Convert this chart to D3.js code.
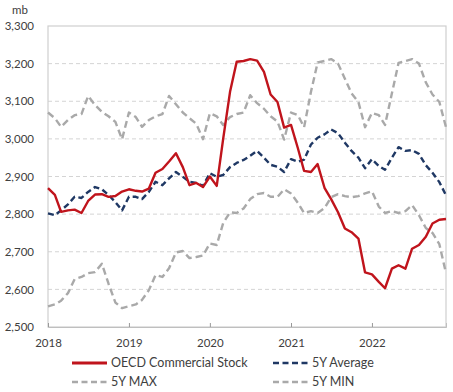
<!DOCTYPE html>
<html><head><meta charset="utf-8">
<script src="https://cdn.jsdelivr.net/npm/d3@7"></script>
<style>
html,body{margin:0;padding:0;background:#fff;}
svg text{font-family:Lato,"Open Sans",sans-serif;fill:#404040;}
</style></head>
<body><svg id="c" width="453" height="392"></svg>
<script>
const yearLabels = ["2018","2019","2020","2021","2022"];
const yTicks = [2500,2600,2700,2800,2900,3000,3100,3200,3300];
const seriesNames = ["OECD Commercial Stock","5Y Average","5Y MAX","5Y MIN"];

const oecd = [2869,2851,2806,2810,2812,2803,2835,2852,2853,2846,2848,2860,
  2866,2862,2860,2868,2910,2920,2940,2962,2925,2877,2883,2872,
  2900,2875,3000,3125,3205,3207,3212,3208,3178,3118,3098,3030,
  3037,2975,2915,2912,2933,2870,2840,2805,2762,2752,2735,2645,
  2640,2620,2603,2655,2664,2655,2708,2718,2740,2775,2785,2787];
const avg5 = [2802,2797,2810,2826,2846,2843,2859,2872,2866,2851,2832,2810,
  2846,2846,2840,2859,2886,2877,2895,2912,2899,2886,2883,2875,
  2909,2899,2904,2925,2936,2944,2955,2968,2950,2931,2926,2912,
  2946,2939,2945,2985,3003,3012,3025,3015,2990,2968,2950,2922,
  2946,2928,2918,2950,2978,2968,2970,2960,2930,2910,2885,2850];
const max5 = [3070,3055,3032,3050,3063,3066,3114,3090,3072,3060,3045,2999,
  3070,3058,3032,3050,3060,3066,3114,3092,3070,3055,3040,2999,
  3068,3060,3037,3058,3066,3070,3116,3095,3080,3060,3046,2998,
  3070,3063,3031,3125,3203,3207,3212,3200,3160,3121,3098,3031,
  3069,3063,3037,3121,3202,3207,3212,3200,3150,3118,3098,3031];
const min5 = [2555,2560,2570,2590,2627,2633,2643,2646,2668,2615,2565,2550,
  2555,2560,2572,2598,2638,2633,2656,2698,2702,2683,2686,2690,
  2722,2718,2776,2805,2803,2815,2840,2853,2856,2846,2846,2866,
  2855,2830,2803,2808,2803,2816,2845,2853,2848,2845,2848,2855,
  2861,2820,2803,2808,2803,2808,2824,2797,2763,2750,2720,2643];

const months = d3.timeMonth.range(new Date(2018,0,1), new Date(2023,0,1));

const svg = d3.select("#c");
const L=48, R=446, T=26, B=327;
const x = d3.scaleTime().domain([months[0], months[months.length-1]]).range([L,R]);
const y = d3.scaleLinear().domain([2500,3300]).range([B,T]);

// gridlines
svg.append("g").selectAll("line").data(yTicks.filter(v=>v>2500&&v<3300)).join("line")
  .attr("x1",L).attr("x2",R).attr("y1",d=>y(d)).attr("y2",d=>y(d))
  .attr("stroke","#d4d4d4").attr("stroke-width",1).attr("stroke-dasharray","4,3");
// frame
svg.append("rect").attr("x",L).attr("y",T).attr("width",R-L).attr("height",B-T)
  .attr("fill","none").attr("stroke","#cfcfcf").attr("stroke-width",1.2);

// y axis
const yAxis = d3.axisLeft(y).tickValues(yTicks).tickFormat(d3.format(",")).tickSize(0).tickPadding(14);
const gy = svg.append("g").attr("transform",`translate(${L},0)`).call(yAxis);
gy.select(".domain").remove();
gy.selectAll("text").attr("font-size","11.5px").style("font-family","Lato,sans-serif").attr("fill","#404040");

// x axis
const yearDates = yearLabels.map(s=>new Date(+s,0,1));
const xAxis = d3.axisBottom(x).tickValues(yearDates).tickFormat((d,i)=>yearLabels[i]).tickSize(-4).tickPadding(12);
const gx = svg.append("g").attr("transform",`translate(0,${B})`).call(xAxis);
gx.select(".domain").attr("stroke","#bfbfbf");
gx.selectAll(".tick line").attr("stroke","#999");
gx.selectAll("text").attr("font-size","11.5px").style("font-family","Lato,sans-serif").attr("fill","#404040");

svg.append("text").attr("x",20).attr("y",14).attr("text-anchor","middle")
  .attr("font-size","11.5px").text("mb");

const line = d3.line().x((d,i)=>x(months[i])).y(d=>y(d));
const styles = [
  {data:oecd, color:"#c0141c", dash:null, w:2.4},
  {data:avg5, color:"#1f3864", dash:"6,3.5", w:2.4},
  {data:max5, color:"#a9a9a9", dash:"7,4", w:2.4},
  {data:min5, color:"#a9a9a9", dash:"7,4", w:2.4}
];
[styles[2],styles[3],styles[1],styles[0]].forEach(s=>{
  svg.append("path").datum(s.data).attr("d",line).attr("fill","none")
    .attr("stroke",s.color).attr("stroke-width",s.w)
    .attr("stroke-dasharray",s.dash).attr("stroke-linejoin","round");
});

// legend
const legPos = [[72,363],[273,363],[72,382],[273,382]];
styles.forEach((s,i)=>{
  const [lx,ly]=legPos[i];
  svg.append("line").attr("x1",lx).attr("x2",lx+35).attr("y1",ly).attr("y2",ly)
    .attr("stroke",s.color).attr("stroke-width",s.dash?2.6:3).attr("stroke-dasharray",s.dash?"6,3.5":null);
  svg.append("text").attr("x",lx+39).attr("y",ly).attr("dy","0.35em")
    .attr("font-size","12.5px").text(seriesNames[i]);
});
</script></body></html>
